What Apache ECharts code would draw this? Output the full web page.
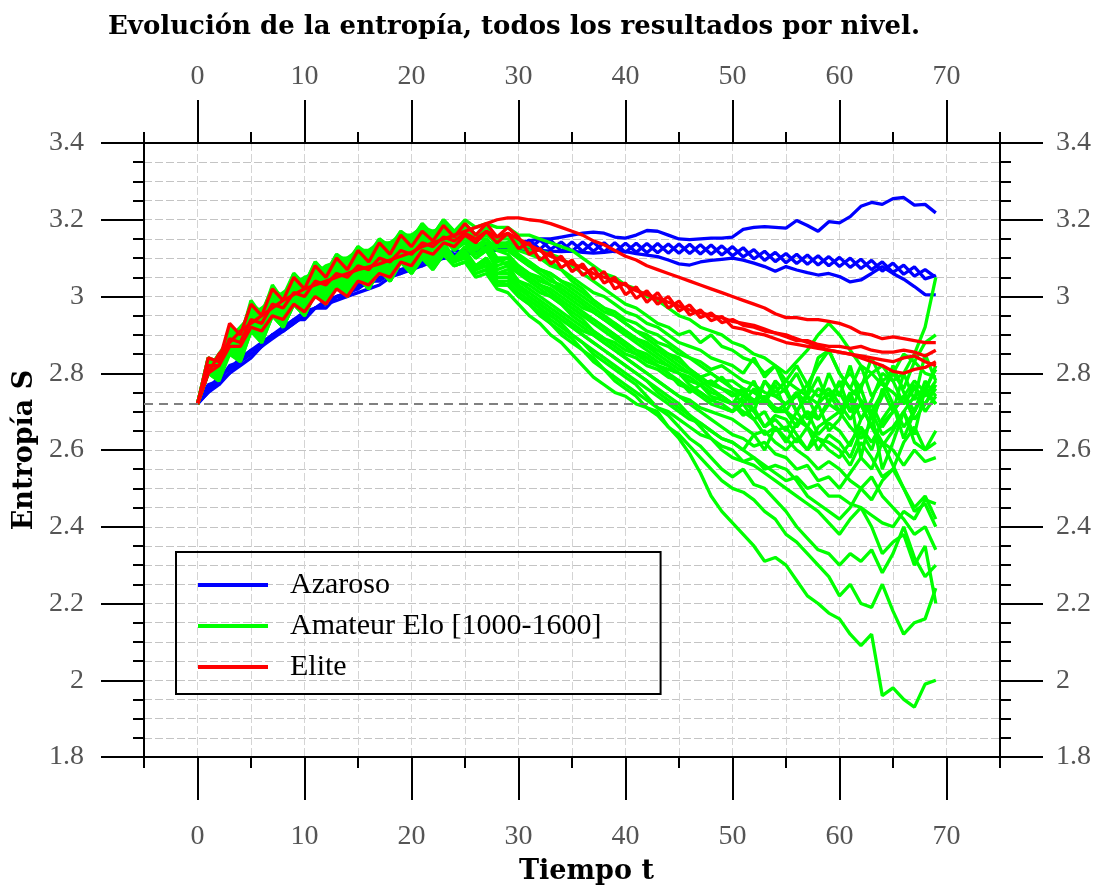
<!DOCTYPE html>
<html>
<head>
<meta charset="utf-8">
<script src="https://cdn.jsdelivr.net/npm/echarts@6/dist/echarts.min.js"></script>
<style>
html,body{margin:0;padding:0;background:#fff;}
#chart{width:1094px;height:885px;}
</style>
</head>
<body>
<div id="chart"></div>
<script>
// ---------- DATA ----------
const tSteps = [0,1,2,3,4,5,6,7,8,9,10,11,12,13,14,15,16,17,18,19,20,21,22,23,24,25,26,27,28,29,30,31,32,33,34,35,36,37,38,39,40,41,42,43,44,45,46,47,48,49,50,51,52,53,54,55,56,57,58,59,60,61,62,63,64,65,66,67,68,69];
const xMajorTicks = [0,10,20,30,40,50,60,70];
const yMajorTicks = [1.8,2.0,2.2,2.4,2.6,2.8,3.0,3.2,3.4];
const refLevel = 2.72;
const groupNames = ['Azaroso','Amateur Elo [1000-1600]','Elite'];

// Azaroso (blue)
const azar1 = [2.72,2.76,2.79,2.81,2.84,2.86,2.88,2.9,2.92,2.94,
 2.96,2.97,2.99,3.0,3.01,3.03,3.04,3.05,3.06,3.07,
 3.08,3.09,3.095,3.1,3.11,3.115,3.12,3.125,3.13,3.135,
 3.14,3.145,3.15,3.15,3.155,3.16,3.165,3.168,3.165,3.155,
 3.152,3.16,3.172,3.17,3.16,3.15,3.148,3.15,3.152,3.152,
 3.155,3.175,3.18,3.182,3.18,3.178,3.198,3.185,3.17,3.195,
 3.192,3.208,3.235,3.245,3.24,3.255,3.258,3.238,3.24,3.218];
const azar2 = [2.72,2.75,2.78,2.8,2.83,2.85,2.87,2.9,2.91,2.93,
 2.95,2.97,2.98,3.0,3.01,3.02,3.04,3.04,3.06,3.06,
 3.08,3.08,3.1,3.1,3.12,3.115,3.13,3.125,3.14,3.13,
 3.147,3.123,3.147,3.123,3.142,3.118,3.142,3.118,3.14,3.116,
 3.139,3.115,3.138,3.114,3.137,3.113,3.136,3.111,3.134,3.108,
 3.13,3.103,3.122,3.094,3.115,3.088,3.11,3.084,3.106,3.08,
 3.102,3.076,3.097,3.07,3.09,3.063,3.082,3.053,3.07,3.05];
const azar3 = [2.72,2.77,2.78,2.82,2.83,2.86,2.87,2.9,2.91,2.94,
 2.94,2.97,2.97,3.0,3.0,3.03,3.03,3.05,3.05,3.07,
 3.07,3.09,3.09,3.11,3.1,3.125,3.115,3.135,3.125,3.14,
 3.123,3.147,3.123,3.147,3.118,3.142,3.118,3.142,3.116,3.14,
 3.115,3.139,3.114,3.138,3.113,3.137,3.112,3.135,3.11,3.132,
 3.106,3.127,3.098,3.118,3.091,3.112,3.086,3.108,3.082,3.104,
 3.078,3.1,3.073,3.094,3.066,3.087,3.058,3.077,3.046,3.055];
const azar4 = [2.72,2.75,2.77,2.8,2.82,2.84,2.87,2.89,2.91,2.93,
 2.95,2.97,2.98,2.99,3.0,3.01,3.02,3.03,3.05,3.06,
 3.07,3.08,3.09,3.1,3.1,3.11,3.115,3.12,3.12,3.125,
 3.125,3.12,3.12,3.118,3.117,3.118,3.115,3.113,3.115,3.118,
 3.117,3.112,3.108,3.104,3.095,3.085,3.082,3.09,3.094,3.097,
 3.1,3.095,3.087,3.078,3.066,3.078,3.069,3.062,3.056,3.06,
 3.052,3.038,3.043,3.06,3.078,3.06,3.045,3.026,3.005,3.004];

// Amateur Elo [1000-1600] (green)
const green01 = [2.72,2.84,2.81,2.92,2.89,2.99,2.95,3.03,2.99,3.06,
 3.03,3.09,3.06,3.11,3.08,3.13,3.10,3.15,3.12,3.17,
 3.14,3.19,3.16,3.2,3.17,3.2,3.18,3.19,3.18,3.18,
 3.16,3.16,3.15,3.14,3.13,3.12,3.1,3.08,3.06,3.05,
 3.03,3.02,3.0,2.99,2.97,2.95,2.94,2.92,2.91,2.9,
 2.88,2.87,2.85,2.84,2.82,2.8,2.83,2.86,2.9,2.93,
 2.9,2.86,2.82,2.8,2.77,2.75,2.72,2.76,2.74,2.78];
const green02 = [2.72,2.83,2.8,2.91,2.88,2.98,2.94,3.02,2.98,3.05,
 3.02,3.08,3.05,3.1,3.07,3.12,3.09,3.14,3.11,3.16,
 3.13,3.18,3.15,3.19,3.16,3.19,3.16,3.18,3.15,3.16,
 3.14,3.13,3.12,3.11,3.1,3.08,3.06,3.04,3.02,3.0,
 2.98,2.97,2.95,2.93,2.92,2.9,2.91,2.88,2.9,2.87,
 2.86,2.84,2.83,2.8,2.82,2.78,2.76,2.74,2.72,2.75,
 2.7,2.74,2.77,2.8,2.82,2.78,2.8,2.85,2.92,3.05];
const green03 = [2.72,2.82,2.80,2.89,2.86,2.95,2.92,2.99,2.96,3.02,
 2.99,3.05,3.02,3.07,3.04,3.09,3.06,3.11,3.08,3.13,
 3.10,3.15,3.12,3.16,3.13,3.16,3.13,3.15,3.12,3.12,
 3.1,3.09,3.07,3.06,3.04,3.02,3.0,2.98,2.96,2.95,
 2.93,2.91,2.9,2.88,2.87,2.85,2.84,2.83,2.81,2.82,
 2.8,2.78,2.77,2.75,2.74,2.72,2.74,2.77,2.82,2.86,
 2.8,2.76,2.73,2.7,2.75,2.8,2.85,2.83,2.88,2.9];
const green04 = [2.72,2.83,2.81,2.9,2.87,2.96,2.93,3.0,2.97,3.03,
 3.0,3.06,3.03,3.08,3.05,3.1,3.07,3.12,3.09,3.14,
 3.11,3.16,3.13,3.17,3.14,3.16,3.12,3.14,3.1,3.1,
 3.08,3.06,3.05,3.03,3.02,3.0,2.98,2.96,2.94,2.92,
 2.9,2.89,2.88,2.86,2.85,2.84,2.81,2.79,2.77,2.76,
 2.74,2.76,2.72,2.73,2.7,2.7,2.66,2.7,2.64,2.67,
 2.65,2.61,2.68,2.72,2.66,2.7,2.74,2.68,2.72,2.76];
const green05 = [2.72,2.80,2.79,2.86,2.84,2.92,2.89,2.96,2.93,2.99,
 2.96,3.02,2.99,3.04,3.01,3.06,3.03,3.08,3.05,3.10,
 3.07,3.12,3.09,3.13,3.10,3.13,3.1,3.12,3.08,3.09,
 3.06,3.05,3.03,3.01,2.99,2.97,2.95,2.94,2.92,2.9,
 2.88,2.86,2.85,2.83,2.82,2.8,2.79,2.77,2.78,2.76,
 2.75,2.72,2.76,2.73,2.78,2.75,2.7,2.74,2.68,2.72,
 2.7,2.75,2.68,2.73,2.8,2.78,2.72,2.77,2.7,2.74];
const green06 = [2.72,2.81,2.85,2.89,2.92,2.95,2.97,2.99,3.01,3.03,
 3.05,3.06,3.08,3.09,3.1,3.11,3.12,3.13,3.14,3.15,
 3.16,3.16,3.17,3.17,3.16,3.15,3.14,3.12,3.1,3.08,
 3.06,3.04,3.02,3.0,2.98,2.95,2.93,2.91,2.89,2.88,
 2.86,2.85,2.84,2.82,2.81,2.8,2.77,2.75,2.73,2.72,
 2.7,2.72,2.68,2.7,2.65,2.66,2.62,2.66,2.6,2.64,
 2.62,2.58,2.65,2.6,2.68,2.72,2.66,2.7,2.75,2.72];
const green07 = [2.72,2.82,2.8,2.9,2.87,2.97,2.93,3.01,2.97,3.04,
 3.01,3.07,3.04,3.09,3.06,3.11,3.08,3.13,3.1,3.15,
 3.12,3.17,3.13,3.16,3.12,3.14,3.1,3.12,3.07,3.08,
 3.04,3.03,3.01,3.0,2.98,2.96,2.94,2.91,2.89,2.87,
 2.85,2.84,2.82,2.81,2.79,2.78,2.76,2.75,2.73,2.74,
 2.72,2.7,2.68,2.64,2.66,2.62,2.67,2.7,2.68,2.73,
 2.75,2.7,2.72,2.66,2.61,2.65,2.7,2.62,2.6,2.65];
const green08 = [2.72,2.83,2.8,2.9,2.86,2.96,2.92,3.0,2.96,3.03,
 2.99,3.06,3.02,3.08,3.04,3.1,3.06,3.12,3.08,3.14,
 3.1,3.16,3.12,3.18,3.14,3.18,3.14,3.17,3.13,3.14,
 3.11,3.09,3.07,3.05,3.02,3.0,2.98,2.96,2.94,2.92,
 2.9,2.88,2.86,2.84,2.82,2.8,2.78,2.77,2.75,2.74,
 2.72,2.73,2.7,2.66,2.69,2.68,2.64,2.6,2.63,2.6,
 2.58,2.62,2.66,2.62,2.67,2.7,2.74,2.78,2.75,2.82];
const green09 = [2.72,2.8,2.78,2.85,2.83,2.91,2.88,2.95,2.92,2.98,
 2.95,3.01,2.98,3.03,3.0,3.05,3.02,3.07,3.04,3.09,
 3.06,3.11,3.08,3.12,3.09,3.11,3.08,3.1,3.06,3.06,
 3.03,3.01,2.99,2.97,2.95,2.93,2.91,2.9,2.88,2.86,
 2.84,2.82,2.8,2.78,2.76,2.74,2.73,2.71,2.7,2.69,
 2.68,2.66,2.64,2.65,2.62,2.6,2.63,2.6,2.66,2.68,
 2.7,2.66,2.63,2.67,2.62,2.6,2.56,2.6,2.57,2.58];
const green10 = [2.72,2.83,2.81,2.91,2.88,2.97,2.94,3.01,2.98,3.04,
 3.01,3.07,3.04,3.1,3.07,3.12,3.09,3.14,3.11,3.16,
 3.13,3.18,3.14,3.17,3.13,3.15,3.11,3.13,3.09,3.1,
 3.07,3.05,3.03,3.02,3.0,2.98,2.96,2.94,2.92,2.9,
 2.88,2.86,2.84,2.82,2.8,2.77,2.76,2.74,2.72,2.71,
 2.7,2.74,2.72,2.78,2.75,2.78,2.82,2.77,2.74,2.76,
 2.72,2.68,2.72,2.7,2.64,2.66,2.7,2.74,2.72,2.77];
const green11 = [2.72,2.81,2.8,2.88,2.86,2.94,2.91,2.98,2.95,3.01,
 2.98,3.04,3.01,3.06,3.03,3.08,3.05,3.1,3.07,3.12,
 3.09,3.14,3.11,3.15,3.12,3.15,3.13,3.14,3.12,3.12,
 3.1,3.08,3.07,3.06,3.04,3.03,3.01,2.99,2.97,2.96,
 2.94,2.93,2.91,2.9,2.88,2.86,2.84,2.82,2.8,2.78,
 2.76,2.75,2.73,2.74,2.71,2.7,2.68,2.66,2.63,2.62,
 2.6,2.56,2.62,2.58,2.53,2.55,2.62,2.66,2.6,2.62];
const green12 = [2.72,2.82,2.84,2.88,2.9,2.94,2.95,2.99,3.0,3.03,
 3.04,3.07,3.07,3.1,3.1,3.12,3.12,3.14,3.14,3.16,
 3.16,3.18,3.17,3.18,3.17,3.17,3.15,3.15,3.12,3.11,
 3.08,3.06,3.04,3.03,3.01,2.99,2.97,2.96,2.94,2.93,
 2.91,2.89,2.87,2.85,2.83,2.81,2.8,2.79,2.8,2.78,
 2.78,2.76,2.75,2.73,2.7,2.72,2.75,2.72,2.76,2.74,
 2.77,2.8,2.76,2.84,2.78,2.8,2.76,2.83,2.8,2.79];
const green13 = [2.72,2.81,2.79,2.87,2.84,2.92,2.89,2.96,2.93,2.99,
 2.96,3.02,2.99,3.05,3.02,3.07,3.04,3.09,3.06,3.11,
 3.08,3.12,3.09,3.13,3.1,3.11,3.07,3.08,3.04,3.03,
 3.01,2.99,2.97,2.95,2.93,2.9,2.88,2.86,2.84,2.82,
 2.8,2.78,2.76,2.74,2.72,2.7,2.68,2.67,2.65,2.63,
 2.62,2.6,2.58,2.56,2.54,2.52,2.53,2.5,2.51,2.48,
 2.48,2.46,2.45,2.43,2.41,2.4,2.44,2.42,2.47,2.46];
const green14 = [2.72,2.82,2.79,2.88,2.85,2.94,2.91,2.98,2.95,3.01,
 2.98,3.04,3.01,3.06,3.03,3.08,3.05,3.1,3.07,3.12,
 3.09,3.14,3.1,3.14,3.1,3.12,3.08,3.1,3.06,3.07,
 3.04,3.02,3.0,2.98,2.96,2.94,2.92,2.9,2.88,2.86,
 2.84,2.82,2.8,2.78,2.76,2.74,2.72,2.7,2.68,2.66,
 2.64,2.63,2.61,2.62,2.59,2.58,2.55,2.56,2.52,2.53,
 2.5,2.54,2.58,2.55,2.62,2.56,2.5,2.45,2.48,2.42];
const green15 = [2.72,2.8,2.78,2.86,2.83,2.91,2.88,2.95,2.92,2.98,
 2.95,3.01,2.98,3.03,3.0,3.05,3.02,3.07,3.04,3.09,
 3.06,3.1,3.07,3.11,3.08,3.09,3.06,3.07,3.03,3.03,
 3.0,2.98,2.96,2.93,2.91,2.89,2.86,2.84,2.81,2.79,
 2.77,2.75,2.73,2.71,2.7,2.68,2.66,2.64,2.63,2.61,
 2.6,2.57,2.58,2.55,2.56,2.55,2.52,2.48,2.46,2.44,
 2.42,2.45,2.5,2.47,2.52,2.55,2.5,2.44,2.46,2.4];
const green16 = [2.72,2.81,2.8,2.88,2.85,2.93,2.9,2.97,2.94,3.0,
 2.97,3.03,3.0,3.05,3.02,3.07,3.04,3.09,3.06,3.11,
 3.08,3.13,3.1,3.13,3.1,3.11,3.07,3.09,3.05,3.05,
 3.02,3.0,2.98,2.96,2.94,2.92,2.9,2.88,2.86,2.84,
 2.82,2.8,2.78,2.75,2.73,2.71,2.69,2.67,2.65,2.63,
 2.62,2.6,2.64,2.6,2.66,2.63,2.6,2.58,2.55,2.57,
 2.55,2.52,2.5,2.53,2.48,2.45,2.42,2.38,2.4,2.34];
const green17 = [2.72,2.81,2.79,2.87,2.85,2.92,2.9,2.96,2.93,2.99,
 2.96,3.02,2.99,3.04,3.01,3.06,3.03,3.08,3.05,3.1,
 3.07,3.11,3.08,3.11,3.08,3.09,3.05,3.06,3.02,3.01,
 2.98,2.95,2.93,2.9,2.88,2.85,2.82,2.79,2.77,2.75,
 2.74,2.72,2.71,2.7,2.66,2.63,2.59,2.54,2.48,2.44,
 2.41,2.38,2.35,2.31,2.32,2.3,2.26,2.22,2.2,2.175,
 2.16,2.12,2.09,2.12,1.96,1.98,1.95,1.93,1.99,2.0];
const green18 = [2.72,2.81,2.79,2.86,2.84,2.91,2.89,2.95,2.92,2.98,
 2.95,3.01,2.98,3.03,3.0,3.05,3.02,3.07,3.04,3.09,
 3.06,3.1,3.07,3.11,3.08,3.09,3.06,3.07,3.03,3.03,
 3.0,2.98,2.95,2.93,2.9,2.88,2.86,2.83,2.81,2.78,
 2.76,2.74,2.71,2.69,2.66,2.64,2.61,2.58,2.55,2.52,
 2.5,2.49,2.47,2.44,2.42,2.38,2.36,2.33,2.3,2.27,
 2.22,2.25,2.2,2.19,2.25,2.18,2.12,2.15,2.16,2.24];
const green19 = [2.72,2.8,2.79,2.87,2.84,2.92,2.89,2.96,2.93,2.99,
 2.96,3.02,2.99,3.04,3.01,3.06,3.03,3.08,3.05,3.1,
 3.07,3.11,3.08,3.12,3.09,3.1,3.07,3.08,3.04,3.04,
 3.01,2.99,2.97,2.94,2.92,2.9,2.88,2.85,2.83,2.81,
 2.79,2.77,2.74,2.71,2.69,2.66,2.63,2.61,2.58,2.55,
 2.53,2.55,2.51,2.5,2.47,2.44,2.4,2.37,2.34,2.33,
 2.3,2.33,2.31,2.34,2.28,2.33,2.4,2.32,2.27,2.3];
const green20 = [2.72,2.82,2.8,2.88,2.85,2.93,2.9,2.97,2.94,3.0,
 2.97,3.03,3.0,3.05,3.02,3.07,3.04,3.09,3.06,3.11,
 3.08,3.12,3.09,3.13,3.1,3.11,3.08,3.09,3.05,3.05,
 3.03,3.0,2.98,2.96,2.94,2.92,2.9,2.88,2.86,2.84,
 2.82,2.8,2.78,2.76,2.74,2.72,2.69,2.66,2.63,2.6,
 2.58,2.57,2.56,2.54,2.52,2.5,2.48,2.46,2.44,2.41,
 2.38,2.42,2.45,2.4,2.33,2.36,2.38,2.3,2.35,2.2];
const green21 = [2.72,2.84,2.82,2.92,2.9,2.98,2.96,3.02,3.0,3.06,
 3.03,3.09,3.06,3.11,3.09,3.13,3.11,3.15,3.13,3.17,
 3.15,3.19,3.16,3.2,3.17,3.19,3.16,3.17,3.13,3.13,
 3.1,3.08,3.06,3.04,3.03,3.01,2.99,2.97,2.95,2.93,
 2.91,2.89,2.87,2.86,2.84,2.82,2.8,2.78,2.76,2.74,
 2.72,2.76,2.7,2.78,2.74,2.76,2.7,2.66,2.72,2.65,
 2.68,2.74,2.58,2.7,2.55,2.62,2.7,2.64,2.76,2.72];
const green22 = [2.72,2.83,2.82,2.9,2.88,2.96,2.94,3.0,2.98,3.04,
 3.01,3.07,3.04,3.09,3.06,3.11,3.08,3.13,3.1,3.15,
 3.12,3.16,3.13,3.17,3.14,3.16,3.13,3.14,3.1,3.1,
 3.07,3.05,3.03,3.01,2.99,2.97,2.95,2.93,2.91,2.89,
 2.87,2.85,2.83,2.82,2.8,2.78,2.75,2.77,2.74,2.73,
 2.72,2.69,2.71,2.66,2.68,2.65,2.7,2.75,2.84,2.86,
 2.8,2.76,2.82,2.74,2.78,2.72,2.63,2.7,2.76,2.81];
const green23 = [2.72,2.82,2.81,2.89,2.87,2.95,2.93,2.99,2.97,3.03,
 3.0,3.06,3.03,3.08,3.06,3.1,3.08,3.12,3.1,3.14,
 3.12,3.16,3.14,3.17,3.15,3.17,3.15,3.16,3.14,3.14,
 3.12,3.11,3.1,3.08,3.07,3.05,3.03,3.01,3.0,2.98,
 2.96,2.95,2.93,2.92,2.9,2.88,2.87,2.86,2.84,2.83,
 2.82,2.8,2.84,2.79,2.82,2.76,2.8,2.74,2.79,2.72,
 2.78,2.7,2.76,2.68,2.74,2.82,2.75,2.7,2.78,2.74];
const green24 = [2.72,2.84,2.83,2.91,2.89,2.97,2.95,3.01,2.99,3.05,
 3.02,3.08,3.05,3.1,3.07,3.12,3.09,3.14,3.11,3.16,
 3.13,3.17,3.15,3.18,3.16,3.18,3.16,3.17,3.15,3.15,
 3.13,3.12,3.1,3.09,3.07,3.04,3.02,2.99,2.97,2.95,
 2.93,2.91,2.89,2.87,2.85,2.83,2.81,2.79,2.77,2.79,
 2.76,2.74,2.78,2.72,2.77,2.7,2.75,2.68,2.72,2.8,
 2.74,2.82,2.72,2.66,2.76,2.7,2.8,2.73,2.85,2.78];

// Elite (red)
const elite1 = [2.72,2.8,2.85,2.88,2.91,2.93,2.95,2.97,2.99,3.005,
 3.02,3.03,3.04,3.05,3.06,3.07,3.077,3.085,3.095,3.105,
 3.115,3.13,3.14,3.15,3.16,3.17,3.18,3.19,3.2,3.205,
 3.205,3.2,3.197,3.19,3.18,3.17,3.16,3.145,3.135,3.12,
 3.105,3.095,3.08,3.07,3.06,3.05,3.04,3.03,3.02,3.01,
 3.0,2.99,2.98,2.97,2.955,2.945,2.945,2.94,2.94,2.935,
 2.93,2.92,2.905,2.9,2.89,2.895,2.89,2.885,2.88,2.88];
const elite2 = [2.72,2.84,2.83,2.93,2.9,2.98,2.95,3.02,2.99,3.05,
 3.02,3.08,3.05,3.1,3.07,3.12,3.09,3.14,3.11,3.16,
 3.13,3.17,3.145,3.185,3.155,3.19,3.16,3.19,3.155,3.18,
 3.155,3.11,3.125,3.085,3.105,3.065,3.085,3.045,3.065,3.02,
 3.035,2.995,3.015,2.98,3.0,2.962,2.978,2.945,2.957,2.932,
 2.94,2.925,2.92,2.91,2.905,2.895,2.885,2.885,2.875,2.87,
 2.87,2.865,2.87,2.86,2.855,2.855,2.86,2.855,2.845,2.86];
const elite3 = [2.72,2.8,2.82,2.87,2.87,2.92,2.91,2.95,2.94,2.98,
 2.96,3.0,2.98,3.02,3.0,3.04,3.03,3.06,3.05,3.09,
 3.08,3.12,3.11,3.14,3.13,3.16,3.14,3.17,3.14,3.165,
 3.125,3.14,3.095,3.115,3.075,3.095,3.055,3.075,3.035,3.05,
 3.005,3.025,2.985,3.01,2.97,2.988,2.952,2.965,2.937,2.948,
 2.92,2.915,2.905,2.9,2.89,2.88,2.875,2.87,2.865,2.86,
 2.855,2.85,2.845,2.84,2.835,2.83,2.84,2.845,2.83,2.82];
const elite4 = [2.72,2.82,2.82,2.89,2.88,2.94,2.93,2.98,2.97,3.01,
 3.0,3.04,3.03,3.06,3.05,3.08,3.07,3.1,3.09,3.12,
 3.11,3.14,3.13,3.155,3.145,3.165,3.15,3.17,3.155,3.165,
 3.15,3.135,3.12,3.105,3.095,3.085,3.075,3.06,3.05,3.04,
 3.03,3.015,3.005,2.995,2.985,2.975,2.965,2.958,2.95,2.945,
 2.935,2.93,2.925,2.915,2.905,2.9,2.89,2.88,2.87,2.86,
 2.855,2.85,2.84,2.83,2.82,2.805,2.8,2.81,2.815,2.83];

const blueRuns = [azar1, azar2, azar3, azar4];
const greenRuns = [green01,green02,green03,green04,green05,green06,green07,green08,green09,green10,green11,green12,
  green13,green14,green15,green16,green17,green18,green19,green20,green21,green22,green23,green24];
const redRuns = [elite1, elite2, elite3, elite4];

// ---------- CHART ----------
const SERIF = 'Liberation Serif';
const BOLD = 'DejaVu Serif';
const chart = echarts.init(document.getElementById('chart'), null, {renderer:'canvas'});

function mk(name, color, vals) {
  return {
    name: name, type: 'line', symbol: 'none', animation: false, silent: true,
    data: vals.map((v, i) => [tSteps[i], v]),
    lineStyle: {color: color, width: 3.3},
    itemStyle: {color: color}
  };
}
const series = [];
blueRuns.forEach(a => series.push(mk(groupNames[0], '#0000ff', a)));
greenRuns.forEach(a => series.push(mk(groupNames[1], '#00ff00', a)));
redRuns.forEach(a => series.push(mk(groupNames[2], '#ff0000', a)));
series[series.length - 1].markLine = {
  silent: true, symbol: 'none', animation: false,
  label: {show: false},
  lineStyle: {color: '#808080', type: [9, 6], width: 2},
  data: [{yAxis: refLevel}]
};

const axisBlack = {color: '#000', width: 2};
const tickLab = {fontFamily: SERIF, fontSize: 28, color: '#555'};
const fmtY = v => String(+(+v).toFixed(2));

const xBase = {type: 'value', min: -5, max: 75};
const yBase = {type: 'value', min: 1.8, max: 3.4};

const option = {
  backgroundColor: '#fff',
  animation: false,
  title: [
    {text: 'Evolución de la entropía, todos los resultados por nivel.', left: 108, top: 14, padding: 0,
     textStyle: {fontFamily: BOLD, fontWeight: 'bold', fontSize: 26, color: '#000'}},
    {text: 'Tiempo t', left: 519, top: 858, padding: 0,
     textStyle: {fontFamily: BOLD, fontWeight: 'bold', fontSize: 27, color: '#000'}}
  ],
  grid: {left: 144, right: 94, top: 143, bottom: 128, containLabel: false},
  legend: {
    orient: 'vertical', left: 176, top: 552,
    padding: [18, 59, 12, 22], itemGap: 11,
    itemWidth: 70, itemHeight: 4, icon: 'rect',
    borderColor: '#000', borderWidth: 2,
    data: groupNames,
    textStyle: {fontFamily: SERIF, fontSize: 30, color: '#000', lineHeight: 26, padding: [0, 0, 0, 17]}
  },
  xAxis: [
    Object.assign({}, xBase, {position: 'bottom', interval: 5,
      axisLine: {show: true, onZero: false, lineStyle: axisBlack},
      axisTick: {show: true, inside: false, length: 11, lineStyle: axisBlack},
      axisLabel: {show: false},
      splitLine: {show: true, lineStyle: {color: '#d4d4d4', width: 1, type: [8, 3]}}}),
    Object.assign({}, xBase, {position: 'bottom',
      axisLine: {show: false, onZero: false},
      axisTick: {show: true, inside: false, length: 43, lineStyle: axisBlack, customValues: xMajorTicks},
      axisLabel: Object.assign({show: true, margin: 66, customValues: xMajorTicks}, tickLab),
      splitLine: {show: false}}),
    Object.assign({}, xBase, {position: 'top', interval: 5,
      axisLine: {show: true, onZero: false, lineStyle: axisBlack},
      axisTick: {show: true, inside: false, length: 11, lineStyle: axisBlack},
      axisLabel: {show: false}, splitLine: {show: false}}),
    Object.assign({}, xBase, {position: 'top',
      axisLine: {show: false, onZero: false},
      axisTick: {show: true, inside: false, length: 43, lineStyle: axisBlack, customValues: xMajorTicks},
      axisLabel: Object.assign({show: true, margin: 52, customValues: xMajorTicks}, tickLab),
      splitLine: {show: false}})
  ],
  yAxis: [
    Object.assign({}, yBase, {position: 'left', interval: 0.05,
      axisLine: {show: true, onZero: false, lineStyle: axisBlack},
      axisTick: {show: true, inside: false, length: 11, lineStyle: axisBlack},
      axisLabel: {show: false},
      splitLine: {show: true, lineStyle: {color: '#c4c4c4', width: 1, type: [8, 3]}}}),
    Object.assign({}, yBase, {position: 'left',
      name: 'Entropía S', nameLocation: 'middle', nameRotate: 90, nameGap: 92,
      nameTextStyle: {fontFamily: BOLD, fontWeight: 'bold', fontSize: 27, color: '#000'},
      axisLine: {show: false, onZero: false},
      axisTick: {show: true, inside: false, length: 43, lineStyle: axisBlack, customValues: yMajorTicks},
      axisLabel: Object.assign({show: true, margin: 60, customValues: yMajorTicks, formatter: fmtY}, tickLab),
      splitLine: {show: false}}),
    Object.assign({}, yBase, {position: 'right', interval: 0.05,
      axisLine: {show: true, onZero: false, lineStyle: axisBlack},
      axisTick: {show: true, inside: false, length: 11, lineStyle: axisBlack},
      axisLabel: {show: false}, splitLine: {show: false}}),
    Object.assign({}, yBase, {position: 'right',
      axisLine: {show: false, onZero: false},
      axisTick: {show: true, inside: false, length: 43, lineStyle: axisBlack, customValues: yMajorTicks},
      axisLabel: Object.assign({show: true, margin: 56, customValues: yMajorTicks, formatter: fmtY}, tickLab),
      splitLine: {show: false}})
  ],
  series: series
};
chart.setOption(option);
</script>
</body>
</html>
